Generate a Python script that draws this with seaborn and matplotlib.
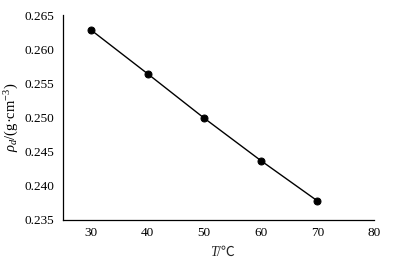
import matplotlib
matplotlib.use("Agg")
import matplotlib.pyplot as plt
import seaborn as sns
import pandas as pd

temperature = [30, 40, 50, 60, 70]
density = [0.2628, 0.2564, 0.2499, 0.2437, 0.2378]
x_ticks = [30, 40, 50, 60, 70, 80]
y_ticks = [0.235, 0.240, 0.245, 0.250, 0.255, 0.260, 0.265]

sns.set_theme(style="white")
plt.rcParams['font.family'] = ['Liberation Serif', 'Noto Sans CJK SC']
plt.rcParams['mathtext.fontset'] = 'custom'
plt.rcParams['mathtext.rm'] = 'Liberation Serif'
plt.rcParams['mathtext.it'] = 'Liberation Serif:italic'

df = pd.DataFrame({"T": temperature, "rho": density})

fig = plt.figure(figsize=(4.14, 2.65), dpi=100)
ax = fig.add_axes([0.152, 0.170, 0.751, 0.773])
sns.lineplot(data=df, x="T", y="rho", ax=ax, color="black", linewidth=1.0,
             marker="o", markersize=5, markeredgecolor="black", markerfacecolor="black")

ax.set_xlim(25, 80)
ax.set_ylim(0.235, 0.265)
ax.set_xticks(x_ticks)
ax.set_yticks(y_ticks)
ax.set_yticklabels([f"{v:.3f}" for v in y_ticks])
for s in ["top", "right"]:
    ax.spines[s].set_visible(False)
for s in ["left", "bottom"]:
    ax.spines[s].set_color("black")
    ax.spines[s].set_linewidth(0.9)
ax.tick_params(axis="y", direction="out", length=4, width=0.8, colors="black", labelsize=9.5, pad=2)
ax.tick_params(axis="x", direction="in", length=4, width=0.8, colors="black", labelsize=9.5, pad=5)
ax.set_xlabel("")
ax.text(0.497, -0.158, "T", transform=ax.transAxes, ha="right", va="center",
        fontsize=10, style="italic", family=['Liberation Serif', 'Noto Sans CJK SC'])
ax.text(0.497, -0.158, "/℃", transform=ax.transAxes, ha="left", va="center",
        fontsize=10, family=['Liberation Serif', 'Noto Sans CJK SC'])
ax.set_ylabel(r"$\rho_d$/(g·cm$^{-3}$)", fontsize=10.5, color="black", labelpad=3)

fig.savefig("out.png", dpi=100)
